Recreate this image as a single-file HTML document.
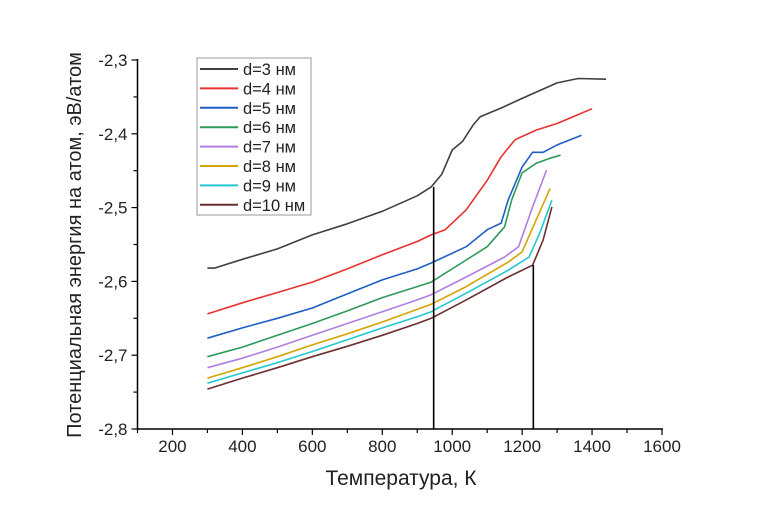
<!DOCTYPE html>
<html><head><meta charset="utf-8"><style>
html,body{margin:0;padding:0;background:#fff;}
svg{display:block;font-family:"Liberation Sans",sans-serif;}
</style></head><body>
<svg id="chart" width="770" height="515" viewBox="0 0 770 515" xmlns="http://www.w3.org/2000/svg">
<g id="axes"></g>
<g id="series"></g>
<g id="legend"></g>
<text x="401" y="485" font-size="21" text-anchor="middle" fill="#222">Температура, К</text>
<text x="0" y="0" font-size="20" text-anchor="middle" fill="#222" transform="translate(81,245) rotate(-90)">Потенциальная энергия на атом, эВ/атом</text>
</svg>
<script>
const xTicks=[200,400,600,800,1000,1200,1400,1600];
const yTicks=[-2.3,-2.4,-2.5,-2.6,-2.7,-2.8];
const yTickLabels=["-2,3","-2,4","-2,5","-2,6","-2,7","-2,8"];
const seriesNames=["d=3 нм","d=4 нм","d=5 нм","d=6 нм","d=7 нм","d=8 нм","d=9 нм","d=10 нм"];
const seriesColors=["#404040","#e8322f","#1f5fc4","#2e9a5a","#b07ee0","#d4a500","#22c8d0","#6b2f2f"];
const t3=[300,320,400,500,600,700,800,900,940,970,1000,1030,1060,1080,1140,1200,1300,1360,1440];
const e3=[-2.582,-2.582,-2.570,-2.556,-2.537,-2.522,-2.505,-2.484,-2.472,-2.455,-2.422,-2.41,-2.388,-2.377,-2.365,-2.352,-2.331,-2.325,-2.326];
const t4=[300,400,500,600,700,800,900,940,980,1040,1100,1140,1180,1240,1300,1360,1400];
const e4=[-2.644,-2.629,-2.615,-2.601,-2.583,-2.564,-2.546,-2.537,-2.530,-2.503,-2.463,-2.431,-2.408,-2.395,-2.386,-2.374,-2.366];
const t5=[300,400,500,600,700,800,900,940,1040,1100,1140,1160,1200,1230,1260,1300,1370];
const e5=[-2.677,-2.663,-2.650,-2.636,-2.617,-2.598,-2.583,-2.575,-2.553,-2.530,-2.521,-2.490,-2.445,-2.425,-2.425,-2.415,-2.402];
const t6=[300,400,500,600,700,800,900,940,1040,1100,1150,1170,1200,1240,1280,1310];
const e6=[-2.702,-2.689,-2.673,-2.657,-2.640,-2.622,-2.607,-2.601,-2.571,-2.553,-2.526,-2.490,-2.453,-2.440,-2.433,-2.429];
const t7=[300,400,500,600,700,800,900,940,1040,1150,1190,1230,1270];
const e7=[-2.717,-2.704,-2.689,-2.673,-2.657,-2.641,-2.625,-2.618,-2.594,-2.567,-2.553,-2.499,-2.449];
const t8=[300,400,500,600,700,800,900,940,1040,1160,1200,1240,1280];
const e8=[-2.731,-2.717,-2.702,-2.686,-2.671,-2.655,-2.638,-2.631,-2.607,-2.574,-2.560,-2.517,-2.474];
const t9=[300,400,500,600,700,800,900,940,1040,1160,1220,1250,1285];
const e9=[-2.738,-2.724,-2.710,-2.695,-2.679,-2.663,-2.648,-2.641,-2.616,-2.585,-2.567,-2.535,-2.490];
const t10=[300,400,500,600,700,800,900,940,1040,1160,1230,1260,1285];
const e10=[-2.746,-2.731,-2.717,-2.702,-2.688,-2.673,-2.657,-2.650,-2.625,-2.594,-2.578,-2.544,-2.499];
const markerT=[947,1232];
const markerE=[-2.472,-2.578];

const NS="http://www.w3.org/2000/svg";
const X0=137.5,X1=662,XMIN=100,XMAX=1600,Y0=60,Y1=429,YMAX=-2.3,YMIN=-2.8;
function sx(v){return X0+(v-XMIN)/(XMAX-XMIN)*(X1-X0);}
function sy(v){return Y0+(YMAX-v)/(YMAX-YMIN)*(Y1-Y0);}
function mk(tag,attrs,parent){const e=document.createElementNS(NS,tag);for(const k in attrs)e.setAttribute(k,attrs[k]);parent.appendChild(e);return e;}
const axes=document.getElementById('axes');
let a=mk('line',{x1:X0,y1:Y0-1,x2:X0,y2:Y1,stroke:'#000','stroke-width':1.5},axes);


a=mk('line',{x1:X0,y1:Y1,x2:X1+1,y2:Y1,stroke:'#000','stroke-width':1.5},axes);


for(let v=XMIN;v<=XMAX;v+=100){const major=xTicks.includes(v);
 const t=mk('line',{x1:sx(v),y1:Y1,x2:sx(v),y2:Y1+(major?6:4),stroke:'#000','stroke-width':1.2},axes);
 
 }
xTicks.forEach(v=>{const t=mk('text',{x:sx(v),y:Y1+23,'font-size':17,'text-anchor':'middle',fill:'#222'},axes);t.textContent=v;
 
 });
for(let i=0;i<=10;i++){const v=YMAX-i*0.05;const major=i%2==0;
 const t=mk('line',{x1:X0,y1:sy(v),x2:X0-(major?6:4),y2:sy(v),stroke:'#000','stroke-width':1.2},axes);
 
 }
yTicks.forEach((v,i)=>{const t=mk('text',{x:X0-10,y:sy(v)+6,'font-size':17,'text-anchor':'end',fill:'#222'},axes);t.textContent=yTickLabels[i];
 
 });
const ser=document.getElementById('series');
const all=[[t3,e3],[t4,e4],[t5,e5],[t6,e6],[t7,e7],[t8,e8],[t9,e9],[t10,e10]];
for(let i=all.length-1;i>=0;i--){const [tt,ee]=all[i];
 const p=mk('polyline',{points:tt.map((t,j)=>sx(t).toFixed(1)+','+sy(ee[j]).toFixed(1)).join(' '),fill:'none',stroke:seriesColors[i],'stroke-width':1.6,'stroke-linejoin':'round'},ser);
 
 }
markerT.forEach((t,i)=>{const l=mk('line',{x1:sx(t),y1:sy(markerE[i]),x2:sx(t),y2:Y1,stroke:'#000','stroke-width':1.6},ser);
 
 });
const lg=document.getElementById('legend');
const box=mk('rect',{x:197,y:58,width:114,height:157,fill:'#fff',stroke:'#999','stroke-width':1},lg);


seriesNames.forEach((n,i)=>{const y=69+i*19.4;
 const g=mk('g',{},lg);
 
 
 mk('line',{x1:200,y1:y,x2:238,y2:y,stroke:seriesColors[i],'stroke-width':2},g);
 const t=mk('text',{x:243,y:y+6,'font-size':16.5,fill:'#222'},g);t.textContent=n;});
</script>
</body></html>
